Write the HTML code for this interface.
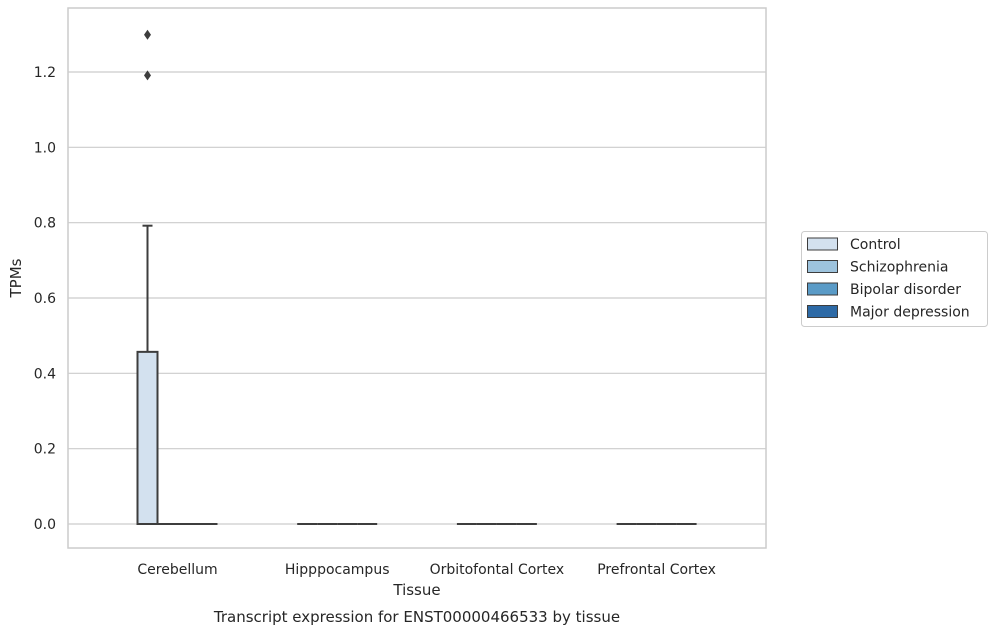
<!DOCTYPE html>
<html><head><meta charset="utf-8"><style>
body{margin:0;background:#fff;font-family:"Liberation Sans","DejaVu Sans",sans-serif}
svg text{font-family:"DejaVu Sans","Liberation Sans",sans-serif;fill:#262626}
</style></head><body>
<svg id="c" width="997" height="634" xmlns="http://www.w3.org/2000/svg"></svg>
<script>
const categories=["Cerebellum","Hipppocampus","Orbitofontal Cortex","Prefrontal Cortex"];
const hues=["Control","Schizophrenia","Bipolar disorder","Major depression"];
const colors=["#d3e1ef","#9dc3dd","#5a9bc7","#2d6aa6"];
// [group][hue] = [whiskerLow, q1, median, q3, whiskerHigh]
const boxStats=[
 [[0,0,0,0.457,0.792],[0,0,0,0,0],[0,0,0,0,0],[0,0,0,0,0]],
 [[0,0,0,0,0],[0,0,0,0,0],[0,0,0,0,0],[0,0,0,0,0]],
 [[0,0,0,0,0],[0,0,0,0,0],[0,0,0,0,0],[0,0,0,0,0]],
 [[0,0,0,0,0],[0,0,0,0,0],[0,0,0,0,0],[0,0,0,0,0]]
];
const outliers=[[0,0,1.299],[0,0,1.191]]; // [group,hue,value]
const yTicks=[0,0.2,0.4,0.6,0.8,1.0,1.2];
const yTickLabels=["0.0","0.2","0.4","0.6","0.8","1.0","1.2"];

const svg=document.getElementById('c');
const NS="http://www.w3.org/2000/svg";
function el(t,a,p){const e=document.createElementNS(NS,t);for(const k in a)e.setAttribute(k,a[k]);(p||svg).appendChild(e);return e;}
const L=68,R=766,T=8,B=548;
const y=v=>524-v*(524-72)/1.2;
const xc=i=>177.5+i*159.7;
const bw=20;
const hx=(g,h)=>xc(g)-40+h*bw;

const bg=el('rect',{x:L,y:T,width:R-L,height:B-T,fill:'#fff'});

yTicks.forEach((v,i)=>{
 const g=el('line',{x1:L,x2:R,y1:y(v),y2:y(v),stroke:'#cccccc','stroke-width':1.2});
 
 const t=el('text',{x:L-12,y:y(v)+5,'text-anchor':'end','font-size':14});
 t.textContent=yTickLabels[i];
 
});
const fr=el('rect',{x:L,y:T,width:R-L,height:B-T,fill:'none',stroke:'#cccccc','stroke-width':1.5});


boxStats.forEach((grp,g)=>{
 grp.forEach((s,h)=>{
  const x0=hx(g,h),cx=x0+bw/2;
  const gg=el('g',{});
  
  
  if(s[4]>s[3]){
   el('line',{x1:cx,x2:cx,y1:y(s[3]),y2:y(s[4]),stroke:'#3d3d3d','stroke-width':2},gg);
   el('line',{x1:cx-5,x2:cx+5,y1:y(s[4]),y2:y(s[4]),stroke:'#3d3d3d','stroke-width':2},gg);
  }
  if(s[1]>s[0]){
   el('line',{x1:cx,x2:cx,y1:y(s[0]),y2:y(s[1]),stroke:'#3d3d3d','stroke-width':2},gg);
   el('line',{x1:cx-5,x2:cx+5,y1:y(s[0]),y2:y(s[0]),stroke:'#3d3d3d','stroke-width':2},gg);
  }
  el('rect',{x:x0,y:y(s[3]),width:bw,height:Math.max(0,y(s[1])-y(s[3])),fill:colors[h],stroke:'#3d3d3d','stroke-width':2},gg);
  el('line',{x1:x0,x2:x0+bw,y1:y(s[2]),y2:y(s[2]),stroke:'#3d3d3d','stroke-width':2},gg);
 });
});
outliers.forEach(o=>{
 const cx=hx(o[0],o[1])+bw/2,cy=y(o[2]);
 const p=el('path',{d:`M${cx},${cy-5} L${cx+3.5},${cy} L${cx},${cy+5} L${cx-3.5},${cy} Z`,fill:'#3d3d3d'});
 
});
categories.forEach((c,i)=>{
 const t=el('text',{x:xc(i),y:574,'text-anchor':'middle','font-size':14});
 t.textContent=c;
 
});
let t=el('text',{x:417,y:595,'text-anchor':'middle','font-size':15});t.textContent='Tissue';

t=el('text',{x:21,y:278,'text-anchor':'middle','font-size':15,transform:'rotate(-90 21 278)'});t.textContent='TPMs';

t=el('text',{x:417,y:622,'text-anchor':'middle','font-size':15});t.textContent='Transcript expression for ENST00000466533 by tissue';


const lg=el('g',{});

el('rect',{x:801.5,y:231.5,width:186,height:95,rx:3,fill:'#fff',stroke:'#cccccc'},lg);
hues.forEach((h,i)=>{
 const yy=238+i*22.5;
 const e=el('g',{},lg);
 
 el('rect',{x:807.5,y:yy,width:30,height:12,fill:colors[i],stroke:'#3d3d3d','stroke-width':1},e);
 const tt=el('text',{x:850,y:yy+11,'font-size':14},e);tt.textContent=h;
});
</script>
</body></html>
